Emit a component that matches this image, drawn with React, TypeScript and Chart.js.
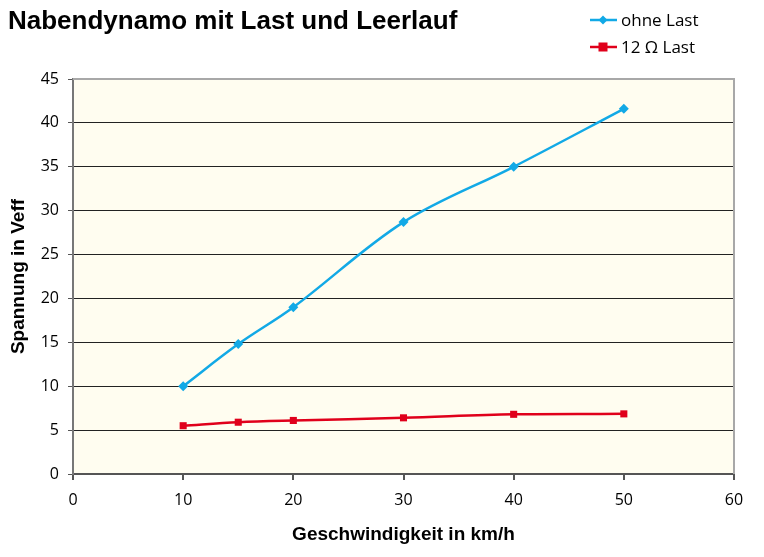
import React, { useEffect, useRef } from "react";
import { Chart, registerables } from "chart.js";

Chart.register(...registerables);

const speeds = [10, 15, 20, 30, 40, 50];
const ohneLast = [10, 14.8, 19.0, 28.7, 35.0, 41.6];
const last12 = [5.5, 5.9, 6.1, 6.4, 6.8, 6.85];
const seriesNames = ["ohne Last", "12 Ω Last"];
const chartTitle = "Nabendynamo mit Last und Leerlauf";
const xTitle = "Geschwindigkeit in km/h";
const yTitle = "Spannung in Veff";

const BLUE = "#12A9E6";
const RED = "#E0001B";

export default function App() {
  const ref = useRef<HTMLCanvasElement | null>(null);
  useEffect(() => {
    document.body.style.margin = "0";
    const canvas = ref.current!;
    const decor = {
      id: "decor",
      beforeDraw(chart: any) {
        const { ctx, chartArea: a } = chart;
        ctx.save();
        ctx.fillStyle = "#FFFDF0";
        ctx.fillRect(a.left, a.top, a.right - a.left, a.bottom - a.top);
        ctx.restore();
      },
      beforeDatasetsDraw(chart: any) {
        const { ctx, chartArea: a } = chart;
        ctx.save();
        ctx.strokeStyle = "#A8A8A8";
        ctx.lineWidth = 2;
        ctx.beginPath();
        ctx.moveTo(a.left, a.top);
        ctx.lineTo(a.right, a.top);
        ctx.lineTo(a.right, a.bottom);
        ctx.stroke();
        ctx.restore();
      },
      afterDraw(chart: any) {
        const { ctx } = chart;
        ctx.save();
        ctx.fillStyle = "#000";
        ctx.font = "bold 26px 'Liberation Sans', Arial, sans-serif";
        ctx.textBaseline = "middle";
        ctx.textAlign = "left";
        ctx.fillText(chartTitle, 8, 22);
        const rows = [
          { y: 20, color: BLUE, shape: "diamond", label: seriesNames[0] },
          { y: 47, color: RED, shape: "square", label: seriesNames[1] },
        ];
        for (const r of rows) {
          ctx.strokeStyle = r.color;
          ctx.lineWidth = 2.5;
          ctx.beginPath();
          ctx.moveTo(590, r.y);
          ctx.lineTo(617, r.y);
          ctx.stroke();
          ctx.fillStyle = r.color;
          if (r.shape === "diamond") {
            ctx.beginPath();
            ctx.moveTo(603, r.y - 4.5);
            ctx.lineTo(607.5, r.y);
            ctx.lineTo(603, r.y + 4.5);
            ctx.lineTo(598.5, r.y);
            ctx.closePath();
            ctx.fill();
          } else {
            ctx.fillRect(598.5, r.y - 4.5, 9, 9);
          }
          ctx.fillStyle = "#000";
          ctx.font = "17px 'Open Sans', sans-serif";
          ctx.textBaseline = "middle";
          ctx.fillText(r.label, 621, r.y + 1);
        }
        ctx.restore();
      },
    };
    const chart = new Chart(canvas, {
      type: "line",
      data: {
        datasets: [
          {
            label: seriesNames[0],
            data: speeds.map((x, i) => ({ x, y: ohneLast[i] })),
            borderColor: BLUE,
            backgroundColor: BLUE,
            borderWidth: 2.5,
            pointStyle: "rectRot",
            pointRadius: 5,
            pointBorderWidth: 0,
            tension: 0.35,
          },
          {
            label: seriesNames[1],
            data: speeds.map((x, i) => ({ x, y: last12[i] })),
            borderColor: RED,
            backgroundColor: RED,
            borderWidth: 2.5,
            pointStyle: "rect",
            pointRadius: 5,
            pointBorderWidth: 0,
            tension: 0.35,
          },
        ],
      },
      options: {
        animation: false,
        responsive: false,
        layout: { padding: { top: 79, right: 30, left: 0, bottom: 0 } },
        plugins: { legend: { display: false }, title: { display: false }, tooltip: { enabled: false } },
        scales: {
          x: {
            type: "linear",
            min: 0,
            max: 60,
            ticks: {
              stepSize: 10,
              color: "#000",
              font: { family: "'Open Sans', sans-serif", size: 16 },
              padding: 11,
            },
            grid: { drawOnChartArea: false, drawTicks: true, tickLength: 6, tickColor: "#555", lineWidth: 2 },
            border: { display: true, color: "#555", width: 2 },
            title: {
              display: true,
              text: xTitle,
              color: "#000",
              font: { family: "'Liberation Sans', Arial, sans-serif", size: 19, weight: "bold" },
              padding: { top: 0, bottom: 11 },
            },
            afterFit(scale: any) {
              scale.height = 83;
            },
          },
          y: {
            min: 0,
            max: 45,
            ticks: {
              stepSize: 5,
              color: "#000",
              font: { family: "'Open Sans', sans-serif", size: 16 },
              padding: 9,
            },
            grid: {
              color: (c: any) => (c.tick && c.tick.value === 45 ? "rgba(0,0,0,0)" : "#222"),
              lineWidth: 1,
              drawTicks: true,
              tickLength: 5,
              tickColor: "#555",
            },
            border: { display: true, color: "#777", width: 2 },
            title: {
              display: true,
              text: yTitle,
              color: "#000",
              font: { family: "'Liberation Sans', Arial, sans-serif", size: 19, weight: "bold" },
              padding: { top: 7, bottom: 0 },
            },
            afterFit(scale: any) {
              scale.width = 73;
            },
          },
        },
      },
      plugins: [decor],
    } as any);
    return () => chart.destroy();
  }, []);
  return (
    <div style={{ position: "fixed", left: 0, top: 0, width: 764, height: 557, background: "#fff" }}>
      <canvas ref={ref} width={764} height={557} />
    </div>
  );
}
